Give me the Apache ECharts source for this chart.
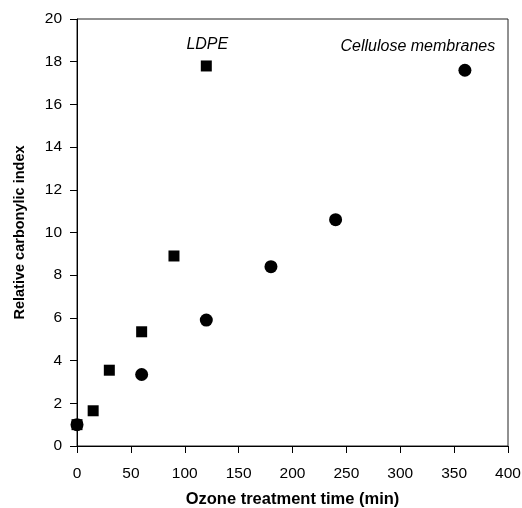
<!DOCTYPE html>
<html>
<head>
<meta charset="utf-8">
<script src="https://cdn.jsdelivr.net/npm/echarts@6/dist/echarts.min.js"></script>
<style>
  html, body { margin: 0; padding: 0; background: #fff; }
  #main { width: 522px; height: 508px; }
</style>
</head>
<body>
<div id="main"></div>
<script>
// ozone treatment time (min) vs relative carbonylic index
const ldpeTime = [0, 15, 30, 60, 90, 120];
const ldpeIndex = [1.0, 1.65, 3.55, 5.35, 8.9, 17.8];
const celluloseTime = [0, 60, 120, 180, 240, 360];
const celluloseIndex = [1.0, 3.35, 5.9, 8.4, 10.6, 17.6];

const FONT = '"Liberation Sans", Arial, sans-serif';

let chart = echarts.init(document.getElementById('main'));

function toPoints(xs, ys, labelText, labelOffset) {
    return xs.map((x, i) => {
        const p = { value: [x, ys[i]] };
        if (i === xs.length - 1) {
            p.label = {
                show: true,
                position: 'top',
                offset: labelOffset,
                formatter: labelText,
                fontFamily: FONT,
                fontStyle: 'italic',
                fontSize: 16,
                color: '#000'
            };
        }
        return p;
    });
}

chart.setOption({
    animation: false,
    grid: {
        left: 77, right: 14, top: 19, bottom: 62,
        outerBoundsMode: 'none',
        containLabel: false,
        show: true, borderColor: '#222', borderWidth: 1
    },
    xAxis: {
        type: 'value',
        min: 0, max: 400, interval: 50,
        name: 'Ozone treatment time (min)',
        nameLocation: 'middle',
        nameGap: 45,
        nameTextStyle: { fontFamily: FONT, fontWeight: 'bold', fontSize: 16.5, color: '#000' },
        axisLine: { show: true, onZero: false, lineStyle: { color: '#000', width: 1 } },
        axisTick: { show: true, length: 7, lineStyle: { color: '#000' } },
        axisLabel: { margin: 20, fontFamily: FONT, fontSize: 15.5, color: '#000' },
        splitLine: { show: false }
    },
    yAxis: {
        type: 'value',
        min: 0, max: 20, interval: 2,
        name: 'Relative carbonylic index',
        nameLocation: 'middle',
        nameGap: 50,
        nameTextStyle: { fontFamily: FONT, fontWeight: 'bold', fontSize: 14.5, color: '#000' },
        axisLine: { show: true, lineStyle: { color: '#000', width: 1 } },
        axisTick: { show: true, length: 7, lineStyle: { color: '#000' } },
        axisLabel: { margin: 15, fontFamily: FONT, fontSize: 15.5, color: '#000' },
        splitLine: { show: false }
    },
    series: [
        {
            name: 'LDPE',
            type: 'scatter',
            symbol: 'rect',
            symbolSize: 11,
            itemStyle: { color: '#000', opacity: 1 },
            data: toPoints(ldpeTime, ldpeIndex, 'LDPE', [1, -3])
        },
        {
            name: 'Cellulose membranes',
            type: 'scatter',
            symbol: 'circle',
            symbolSize: 13,
            itemStyle: { color: '#000', opacity: 1 },
            data: toPoints(celluloseTime, celluloseIndex, 'Cellulose membranes', [-47, -4])
        }
    ]
});
</script>
</body>
</html>
